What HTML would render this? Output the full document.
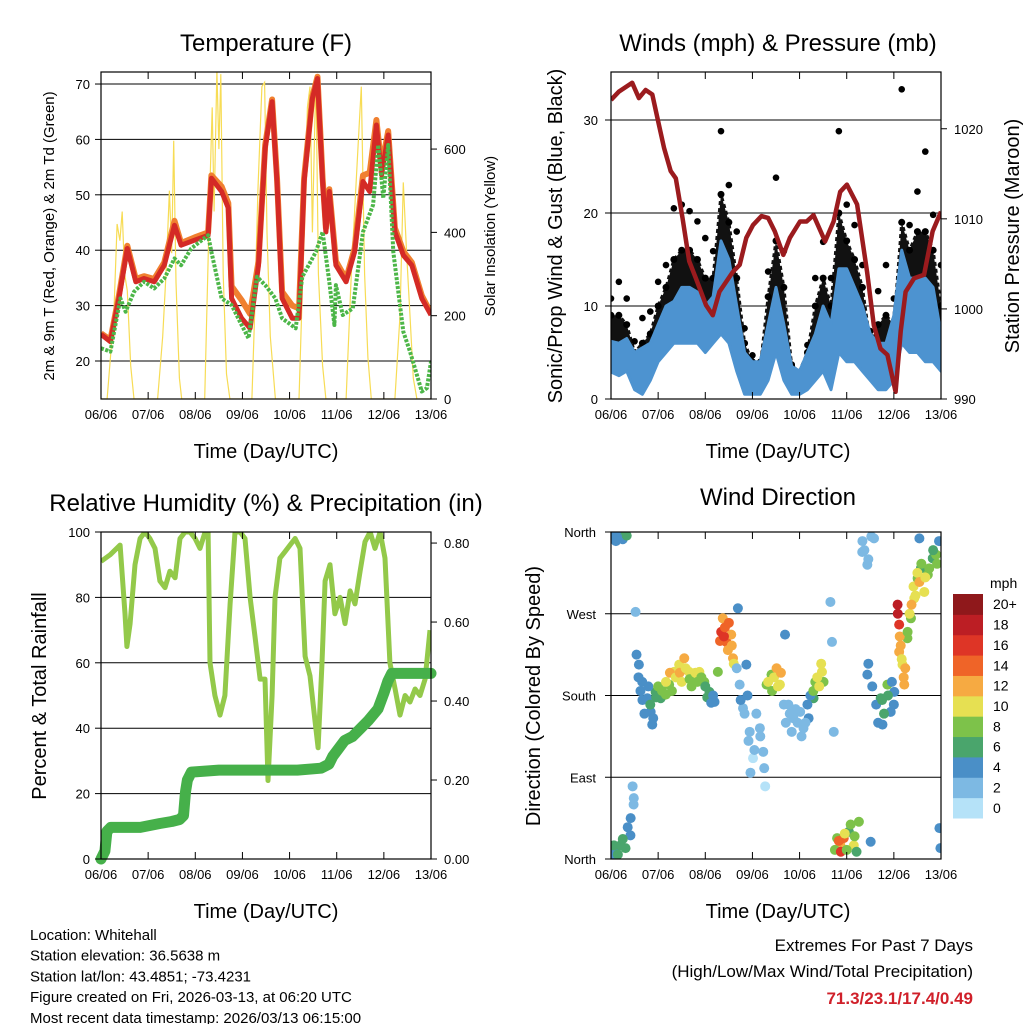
<!DOCTYPE html>
<html><head><meta charset="utf-8"><style>
html,body{margin:0;padding:0;background:#fff;}
svg{display:block;font-family:"Liberation Sans",Arial,sans-serif;}
</style></head><body>
<svg id="s" width="1024" height="1024" viewBox="0 0 1024 1024" xmlns="http://www.w3.org/2000/svg"></svg>
<script>
// ---------- DATA ----------
const dayLabels=["06/06","07/06","08/06","09/06","10/06","11/06","12/06","13/06"];
const tempTicks=[20,30,40,50,60,70];
const solarTicks=[0,200,400,600];
const windTicks=[0,10,20,30];
const presTicks=[990,1000,1010,1020];
const rhTicks=[0,20,40,60,80,100];
const rainTicks=["0.00","0.20","0.40","0.60","0.80"];
const dirTickLabels=["North","East","South","West","North"];
const dirTickVals=[0,90,180,270,360];
const speedLegend=["0","2","4","6","8","10","12","14","16","18","20+"];
const speedColors=["#b5e2f8","#7db9e3","#4a8fc7","#4aa56c","#7dc24a","#e6e052","#f6aa42","#ef6428","#de3526","#bc1e24","#8f181b"];

const tT=[0,4.8,9.1,13.4,17.7,21.9,27.1,32.2,37.4,40.8,47.6,54.5,56.2,61.4,64.8,66.5,71.6,75.9,80.2,83.6,87.1,89.6,92.2,97.4,100.8,103.4,107.6,110.2,112.8,114.5,116.2,119.6,124.8,129.1,133.4,136.8,140.2,142.8,146.2,149.6,153.9,158.2,163.3,168];
const tRed=[24.8,23.5,31.3,40.3,34.3,34.9,34.3,37.3,44.5,40.9,41.8,42.7,53,50.6,47.6,31.3,27.7,25.9,37.3,58.4,66.8,52.4,31.3,27.7,27.7,52.4,67.4,71,52.4,43.3,50.6,37.3,34.3,39.7,52.4,50.6,62.6,53.6,60.8,43.3,39.1,37.3,31.3,28.3];
const tOrange=[25,23.8,31.8,40.8,34.8,35.3,34.8,37.8,45.3,41.3,42.3,43.2,53.5,51.5,48.5,33.5,31,28.5,38,59,67.2,53,32.5,30,29.5,53,67.8,71.3,53,44,51,38,34.8,40.3,53.5,54,63.5,55,61.5,44,39.8,37.8,31.8,28.6];
const tdT=[0,4.8,9.9,12.5,16.8,21.9,27.1,32.2,37.4,40.8,45.9,54.5,56.2,61.4,66.5,71.6,75.1,79.4,83.6,88.8,92.2,99.1,102.5,109.4,112.8,116.2,118.8,119.6,123.1,128.2,133.4,138.5,141.1,143.7,146.2,148.8,153.9,157.3,163.3,165.9,168];
const tdVal=[22.3,21.7,31.3,28.9,32.5,34.3,33.1,34.9,38.5,37.3,40.3,42.7,39.7,31.3,30.1,26.5,24.1,35.2,33.7,31.3,27.7,25.9,35.2,39.7,43.3,34.3,26.5,33.7,28.3,29.5,43.3,48.2,59,49.4,59,39.7,25.3,21.7,14.5,15.1,19.9];
const solT=[0,3.1,6.5,8.2,9.6,10.8,12,13.4,15.1,16.8,28.8,31.4,33.1,34.8,36,37,38.2,39.9,41.1,52.8,55.4,56.6,57.6,59,60,61,62.2,63.9,65.6,76.8,78.2,79.9,81.9,83.3,84.5,86.2,88.8,100.8,103.4,105.1,106.4,107.6,109.4,110.7,112.8,114.5,124.8,127.4,129.1,130.8,132.5,134.2,135.9,137.6,149.6,152.2,153.9,155.6,157.3,159,160.8,168];
const solVal=[0,0,200,420,380,450,300,260,80,0,0,150,300,500,350,620,280,50,0,0,500,700,450,790,600,780,300,60,0,0,200,500,750,760,400,150,0,0,400,700,750,400,780,300,80,0,0,300,450,600,750,300,100,0,0,200,520,350,200,50,0,0];

const presT=[0,3.9,10.8,14.2,17.6,21,23.6,27,30.4,33,36.4,39.8,43.2,48.4,51.8,55.2,58.6,62,65.5,68.9,72.3,76.6,80,83.4,87.7,91.1,96.2,99.6,103.1,109,113.3,116.7,120.1,125.3,130.4,133.8,137.2,140.7,144.9,147.5,150,154.3,159.4,163.7,168];
const presVal=[1023.2,1024.1,1025.1,1023.4,1024.3,1023.8,1021.2,1017.9,1015.3,1014.5,1010.1,1005.3,1003.4,1000.4,999.3,1001.9,1003,1004.1,1004.9,1007.9,1009.3,1010.3,1010.1,1008.6,1006,1007.9,1009.7,1009.7,1010.4,1007.5,1009.7,1013,1013.8,1011.6,1004.1,998.2,995.6,994.9,990.8,997.5,1001.9,1003.4,1003.8,1008.6,1010.8];
const windT=[0,4,8,12,16,20,24,28,32,36,40,44,48,52,56,60,64,68,72,76,80,84,88,92,96,100,104,108,112,116,120,124,128,132,136,140,144,148,152,156,160,164,168];
const windLo=[2.9,2.5,3,1,0.5,2,4,5,6,6,6,6,5,6,7,6,3,0.5,0.5,0.5,2,5,2,0.5,0.5,1,2,3,1,5,4,4,3,2,1,1,2,6,5,5,4,4,3];
const windHi=[6.2,6,6.5,5,5.5,6,8,10,10.5,12,12,11.5,10,11,17,15,10,5,4,4,8,12,8,3.5,3,5,7,10,8,14,14,12,10,7,6,6,9,16,13,13,13,12,7];
const gustMid=[9,9,8,5,6,7,10,12,15,16,16,15,13,13,22,19,13,6,4,3.5,11,17,12,3.5,2.5,5,10,13,10,20,17,15,12,6,8,9,8,19,16,18,18,16,10];
const gustHi=[10.8,12.6,10.8,6.2,8.7,9.4,12.6,14.4,20.5,20.9,20.2,19.1,17.3,15.9,28.8,23,18,7.6,4.7,4,13.7,23.8,15.9,3.7,2.9,5.8,13,16.9,13,28.8,20.9,18.7,14.4,7.3,11.6,14.4,10.8,33.3,18.7,22.3,26.6,19.8,14.4];

const rhT=[0,4.6,9.7,12.2,13.2,14.8,17.3,19.9,22.4,24.9,27.5,30,32.6,35.1,37.7,40.2,42.8,45.3,47.9,50.4,53,54.5,55.5,58,60.6,63.1,65.7,68.2,70.8,73.3,75.9,78.4,81,83.5,85,87.1,88.6,91.1,93.7,96.2,98.8,101.3,103.9,106.4,109,110.5,112.5,114.1,116.6,119.1,121.7,124.2,126.8,129.3,131.9,134.4,137,139.5,142.1,144.6,147.1,149.7,152.2,154.8,157.3,159.9,162.4,165,167.5];
const rhVal=[91,93,96,75,65,72,90,98,100,98,95,85,83,88,86,98,100,100,98,95,100,100,60,50,44,50,78,100,100,98,80,68,55,55,24,50,80,92,94,96,98,95,62,56,42,34,60,85,90,75,80,72,82,78,88,97,100,95,100,92,60,52,44,50,48,52,50,55,70];
const rainT=[0,2,3,5,20,30,36,40,42,43,44,46,60,100,112,116,118,121,124,128,132,136,141,144,146,148,168];
const rainVal=[0,0.02,0.07,0.08,0.08,0.09,0.095,0.10,0.11,0.17,0.20,0.22,0.225,0.225,0.23,0.24,0.26,0.28,0.30,0.31,0.33,0.35,0.38,0.42,0.45,0.47,0.47];

const dirT=[1.4,3.1,4.8,7.4,2.2,4.8,7.4,9.9,11.6,12.5,14.2,15.9,18.5,20.2,21,22.7,25.3,27.9,29.6,32.1,34.7,37.3,39.8,42.4,45,47.5,50.1,52.7,54.4,56.1,56.9,58.7,61.2,62.1,64.6,65.5,67.2,68.9,70.6,72.3,75.8,77.5,79.2,81.7,84.3,86,88.6,90.3,92.9,96.3,98,100.6,103.1,104.8,107.4,108.2,111.7,112.5,113.4,115.1,116.8,118.5,121.1,123.6,126.2,127.9,130.5,132.2,133.9,130.5,137.3,138.2,140.7,142.4,144.2,145.9,146.7,146.7,148.4,149.3,150.9,152.7,154.4,156.1,157.8,159.5,161.3,163.8,165.5,167.2,167.7,157,
0.5,2.5,6,8,0.5,1.5,3.5,6,8.5,10,11,11.5,13,14,15,16,17,19,20,21.5,23,24,26,28,30,31,33,35,36,38,40,41,43,44,46,48,49,51,52,55.5,57.5,58,59.5,60,61.5,62.5,64,66,68,69.5,70,71,73,74,76,78,78.5,80,82,83,85,86.5,88,89,91,92,94,95,97,99,100,101.5,103,104,105,106,107,114,116,117,119,120,122,124,125,128,129,131,132.5,131,133,135,136,138,139,141,143,144,146,147,147.5,148,149,149.8,151,152,153,154,155,156,157,158,160,162,164,166,167];
const dirVal=[355,353,357,357,8,15,12,26,67,272,214,195,177,162,148,184,177,181,192,206,214,221,206,199,206,195,184,173,206,250,265,239,247,221,276,192,166,214,140,111,144,118,192,203,210,192,247,170,155,162,144,155,177,192,206,195,283,239,140,23,15,23,30,15,41,338,324,19,353,203,177,148,192,162,184,280,258,228,214,192,243,265,287,309,320,294,313,331,335,34,12,353,
358,350,352,356,3,15,5,22,35,45,80,60,225,200,185,175,160,190,170,155,178,190,185,195,205,185,200,205,195,210,198,190,205,195,200,190,178,172,180,240,245,255,230,260,235,215,210,175,160,180,130,95,120,160,135,100,80,195,185,200,190,205,170,150,160,140,165,150,135,150,170,180,185,195,200,190,215,10,20,8,28,10,38,25,8,350,340,330,355,215,190,170,150,175,160,180,195,170,270,245,235,220,200,210,250,270,280,300,290,315,305,325,310,320,340,325,350];
const dirSpd=[4,4,4,6,4,6,6,4,2,2,4,4,4,4,4,6,6,8,8,10,10,12,10,10,10,8,6,4,8,16,12,14,12,12,4,2,2,4,2,0,2,2,8,8,12,10,4,2,2,2,2,4,6,8,10,8,2,2,2,8,12,14,6,10,8,2,2,4,2,4,6,4,8,4,4,18,16,12,10,12,8,8,10,8,6,10,8,6,8,4,4,4,
4,4,4,6,4,6,6,6,4,4,2,2,4,4,4,4,4,4,6,4,6,8,8,10,12,8,10,12,10,10,8,8,10,8,8,6,6,4,4,14,16,14,12,14,12,10,2,4,2,4,2,2,2,2,2,2,0,10,8,10,10,12,2,2,2,2,2,2,2,2,4,4,8,8,10,10,10,8,14,16,10,8,8,8,6,2,2,2,2,4,4,4,4,6,6,6,4,4,18,12,12,10,12,12,8,10,12,10,10,10,12,8,10,8,6,8,4];

// ---------- RENDER ----------
const NS="http://www.w3.org/2000/svg";
const svg=document.getElementById('s');
function mk(tag,attrs,parent){const e=document.createElementNS(NS,tag);for(const k in attrs)e.setAttribute(k,attrs[k]);(parent||svg).appendChild(e);return e;}
function txt(str,x,y,size,anchor,parent,extra){const e=mk('text',Object.assign({x:x,y:y,'font-size':size,'text-anchor':anchor||'middle',fill:'#000'},extra||{}),parent);e.textContent=str;return e;}
function lin(d0,d1,p0,p1){return v=>p0+(v-d0)/(d1-d0)*(p1-p0);}
function pathD(xs,ys,X,Y){let d='';for(let i=0;i<xs.length;i++)d+=(i?'L':'M')+X(xs[i]).toFixed(1)+','+Y(ys[i]).toFixed(1);return d;}

function panel(name,x0,x1,y0,y1){
  const g=mk('g',{});
  
  
  const cp=mk('clipPath',{id:'c-'+name},g);mk('rect',{x:x0,y:y0,width:x1-x0,height:y1-y0},cp);
  return g;
}
function frame(g,x0,x1,y0,y1,X){
  const f=mk('rect',{x:x0,y:y0,width:x1-x0,height:y1-y0,fill:'none',stroke:'#000','stroke-width':1.2},g);
  
  
  for(let i=0;i<dayLabels.length;i++){
    const x=X(i*24);
    mk('line',{x1:x,x2:x,y1:y1,y2:y1-7,stroke:'#000','stroke-width':1},g);
    mk('line',{x1:x,x2:x,y1:y0,y2:y0+7,stroke:'#000','stroke-width':1},g);
    const t=txt(dayLabels[i],x,y1+20,13,'middle',g);
    
    
  }
}
function hgrid(g,vals,Y,x0,x1){for(const v of vals){const y=Y(v);const l=mk('line',{x1:x0,x2:x1,y1:y,y2:y,stroke:'#000','stroke-width':1},g);}}
function yTicks(g,vals,labels,Y,x,anchor,tickX,dir){
  for(let i=0;i<vals.length;i++){const y=Y(vals[i]);
    mk('line',{x1:tickX,x2:tickX+dir*6,y1:y,y2:y,stroke:'#000'},g);
    const t=txt(labels[i],x,y+5,13,anchor,g);
    
    }
}
function vlabel(g,str,x,y,size,name){const t=txt(str,0,0,size,'middle',g,{transform:`translate(${x},${y}) rotate(-90)`});return t;}

// Panel 1: Temperature
{
  const x0=101,x1=431,y0=72,y1=399;
  const g=panel('temperature-panel',x0,x1,y0,y1);
  const X=lin(0,168,x0,x1),Y=lin(13.14,72.17,y1,y0),YR=lin(0,785,y1,y0);
  hgrid(g,tempTicks,Y,x0,x1);
  const cg=mk('g',{'clip-path':'url(#c-temperature-panel)'},g);
  const sol=mk('path',{d:pathD(solT,solVal,X,YR),fill:'none',stroke:'#f7dc55','stroke-width':1.2},cg);
  
  const or=mk('path',{d:pathD(tT,tOrange,X,Y),fill:'none',stroke:'#f08030','stroke-width':6,'stroke-linejoin':'round'},cg);
  
  const rd=mk('path',{d:pathD(tT,tRed,X,Y),fill:'none',stroke:'#d42a26','stroke-width':5,'stroke-linejoin':'round'},cg);
  
  const gr=mk('path',{d:pathD(tdT,tdVal,X,Y),fill:'none',stroke:'#4cb648','stroke-width':4,'stroke-dasharray':'3 1.5','stroke-linejoin':'round'},cg);
  
  frame(g,x0,x1,y0,y1,X);
  yTicks(g,tempTicks,tempTicks.map(String),Y,90,'end',x0,-1);
  yTicks(g,solarTicks,solarTicks.map(String),YR,444,'start',x1,1);
  const ti=txt('Temperature (F)',266,51,24,'middle',g);
  const xl=txt('Time (Day/UTC)',266,458,20,'middle',g);
  vlabel(g,'2m & 9m T (Red, Orange) & 2m Td (Green)',54,236,15,'y-axis-title');
  vlabel(g,'Solar Insolation (Yellow)',495,236,15,'y-axis-title-right');
}
// Panel 2: Winds & Pressure
{
  const x0=611,x1=941,y0=72,y1=399;
  const g=panel('winds-panel',x0,x1,y0,y1);
  const X=lin(0,168,x0,x1),Y=lin(0,35.16,y1,y0),YR=lin(990,1026.3,y1,y0);
  hgrid(g,windTicks.slice(1),Y,x0,x1);
  const cg=mk('g',{'clip-path':'url(#c-winds-panel)'},g);
  let d=pathD(windT,windHi,X,Y);for(let i=windT.length-1;i>=0;i--)d+='L'+X(windT[i]).toFixed(1)+','+Y(gustMid[i]).toFixed(1);
  const gf=mk('path',{d:d+'Z',fill:'#111',stroke:'#111','stroke-width':3,'stroke-linejoin':'round','stroke-dasharray':'4 3'},cg);
  
  for(let i=0;i<windT.length;i++){
    const c=mk('circle',{cx:X(windT[i]),cy:Y(gustHi[i]),r:3.3,fill:'#000'},cg);
    
    const c2=mk('circle',{cx:X(windT[i]),cy:Y(gustMid[i]),r:3.5,fill:'#000'},cg);
    
  }
  let d2=pathD(windT,windLo,X,Y);for(let i=windT.length-1;i>=0;i--)d2+='L'+X(windT[i]).toFixed(1)+','+Y(windHi[i]).toFixed(1);
  const bf=mk('path',{d:d2+'Z',fill:'#4d93d0',stroke:'#4d93d0','stroke-width':3,'stroke-linejoin':'round'},cg);
  
  const pr=mk('path',{d:pathD(presT,presVal,X,YR),fill:'none',stroke:'#9b1b1e','stroke-width':4.5,'stroke-linejoin':'round'},cg);
  
  frame(g,x0,x1,y0,y1,X);
  yTicks(g,windTicks,windTicks.map(String),Y,598,'end',x0,-1);
  yTicks(g,presTicks,presTicks.map(String),YR,954,'start',x1,1);
  const ti=txt('Winds (mph) & Pressure (mb)',778,51,24,'middle',g);
  const xl=txt('Time (Day/UTC)',778,458,20,'middle',g);
  vlabel(g,'Sonic/Prop Wind & Gust (Blue, Black)',562,236,20,'y-axis-title');
  vlabel(g,'Station Pressure (Maroon)',1019,236,20,'y-axis-title-right');
}
// Panel 3: RH & precip
{
  const x0=101,x1=431,y0=532,y1=859;
  const g=panel('humidity-panel',x0,x1,y0,y1);
  const X=lin(0,168,x0,x1),Y=lin(0,100,y1,y0),YR=lin(0,0.828,y1,y0);
  hgrid(g,rhTicks.slice(1,5),Y,x0,x1);
  const cg=mk('g',{'clip-path':'url(#c-humidity-panel)'},g);
  const rh=mk('path',{d:pathD(rhT,rhVal,X,Y),fill:'none',stroke:'#93c94a','stroke-width':5,'stroke-linejoin':'round'},cg);
  
  const rn=mk('path',{d:pathD(rainT,rainVal,X,YR),fill:'none',stroke:'#46b04a','stroke-width':11,'stroke-linejoin':'round','stroke-linecap':'round'},g);
  
  frame(g,x0,x1,y0,y1,X);
  yTicks(g,rhTicks,rhTicks.map(String),Y,90,'end',x0,-1);
  yTicks(g,rainTicks.map(Number),rainTicks,YR,444,'start',x1,1);
  const ti=txt('Relative Humidity (%) & Precipitation (in)',266,511,24,'middle',g);
  const xl=txt('Time (Day/UTC)',266,918,20,'middle',g);
  vlabel(g,'Percent & Total Rainfall',46,696,20,'y-axis-title');
}
// Panel 4: Wind direction
{
  const x0=611,x1=941,y0=532,y1=859;
  const g=panel('wind-direction-panel',x0,x1,y0,y1);
  const X=lin(0,168,x0,x1),Y=lin(0,360,y1,y0);
  hgrid(g,dirTickVals.slice(1,4),Y,x0,x1);
  const cg=mk('g',{'clip-path':'url(#c-wind-direction-panel)'},g);
  for(let i=0;i<dirT.length;i++){
    const ci=Math.min(10,Math.floor(dirSpd[i]/2));
    const c=mk('circle',{cx:X(dirT[i]),cy:Y(dirVal[i]),r:5,fill:speedColors[ci]},cg);
    
    
  }
  frame(g,x0,x1,y0,y1,X);
  yTicks(g,dirTickVals,dirTickLabels,Y,596,'end',x0,-1);
  const ti=txt('Wind Direction',778,505,24,'middle',g);
  const xl=txt('Time (Day/UTC)',778,918,20,'middle',g);
  vlabel(g,'Direction (Colored By Speed)',540,696,20,'y-axis-title');
  const lg=mk('g',{},g);
  
  
  const top=594,bot=818,h=(bot-top)/speedColors.length;
  for(let i=0;i<speedColors.length;i++){
    const y=bot-(i+1)*h;
    const r=mk('rect',{x:953,y:y,width:30,height:h+0.5,fill:speedColors[i]},lg);
    
    const t=txt(speedLegend[i],993,y+h/2+5,14,'start',lg);
    
  }
  const u=txt('mph',990,588,14,'start',lg);
}
// Footer
{
  const info=["Location: Whitehall","Station elevation: 36.5638 m","Station lat/lon: 43.4851; -73.4231","Figure created on Fri, 2026-03-13, at 06:20 UTC","Most recent data timestamp: 2026/03/13 06:15:00"];
  const fg=mk('g',{});
  info.forEach((s,i)=>{const t=txt(s,30,940+i*20.7,15,'start',fg);});
  const eg=mk('g',{});
  let t=txt('Extremes For Past 7 Days',973,951,17,'end',eg);
  t=txt('(High/Low/Max Wind/Total Precipitation)',973,977,17,'end',eg);
  t=txt('71.3/23.1/17.4/0.49',973,1004,17,'end',eg,{fill:'#d0202a','font-weight':'bold'});
}
</script>
</body></html>
